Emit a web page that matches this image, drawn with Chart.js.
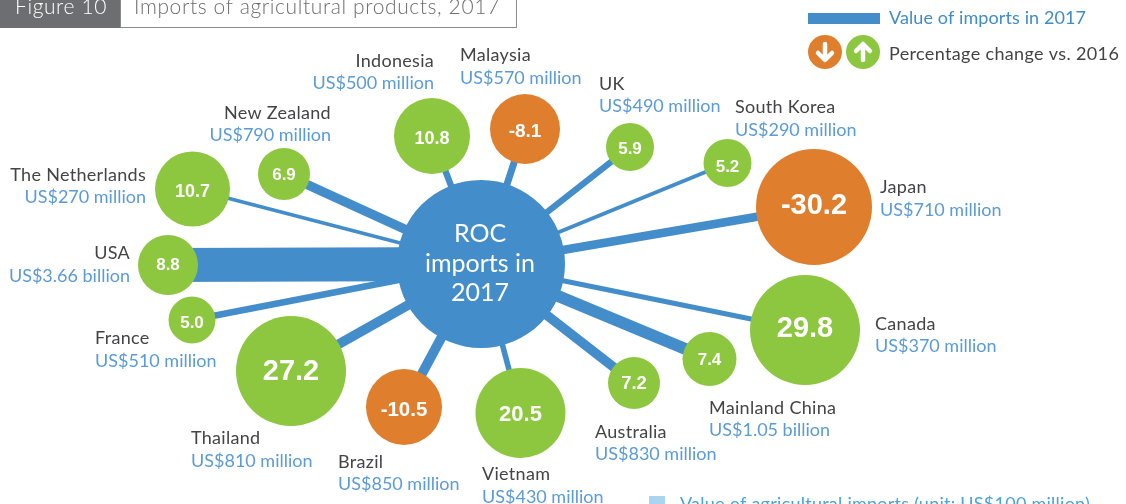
<!DOCTYPE html>
<html><head><meta charset="utf-8">
<style>html,body{margin:0;padding:0;background:#fff;overflow:hidden}canvas{display:block}</style>
<script src="https://cdn.jsdelivr.net/npm/chart.js@4/dist/chart.umd.min.js"></script>
</head><body><canvas id="c" width="1126" height="504"></canvas>
<script>
// --- data ---
const countries = ["The Netherlands","New Zealand","Indonesia","Malaysia","UK","South Korea","Japan","Canada","Mainland China","Australia","Vietnam","Brazil","Thailand","France","USA"];
const importLabels = ["US$270 million","US$790 million","US$500 million","US$570 million","US$490 million","US$290 million","US$710 million","US$370 million","US$1.05 billion","US$830 million","US$430 million","US$850 million","US$810 million","US$510 million","US$3.66 billion"];
const importValues = [270,790,500,570,490,290,710,370,1050,830,430,850,810,510,3660];
const pctChange = [10.7,6.9,10.8,-8.1,5.9,5.2,-30.2,29.8,7.4,7.2,20.5,-10.5,27.2,5.0,8.8];
// --- layout (positions on the hidden 1126x504 scales), kept apart from the data ---
const nodeX = [192.5,284,432,525,630,727.5,814,805,709.5,634,520.5,404,291,192,168];
const nodeY = [189,174,136,129,147,163,207,330,359,383,413,407,371,320,265];
const nodeR = [37.5,26,38,35,24,24,58,55,27,26,45,38,55,23.5,30];
const numY = [192,175,139,132,149,167,206,329,360,384,415,410,372,323,265];
const numSize = [18,17,18,19,17,17,29,29,17,18.5,22,20.5,29,17,17];
const labelX = [146,331,434,460,599,735,880,875,709,595,482,338,191,95,130];
const nameY = [175,113,61,55,84,107,187,324,408,432,474,462,438,338,253];
const valueY = [197,135,83,78,106,130,210,346,430,454,497,484,461,361,276];
const labelAlign = ["right","right","right","left","left","left","left","left","left","left","left","left","left","left","right"];
const hubX = 481, hubY = 264, hubR = 84;
const hubLines = ["ROC","imports in","2017"];

const BLUE="#448dcb", GREEN="#8dc73f", ORANGE="#df7f2d", VALUE_TXT="#5a9bd8", DARK="#444446", GREY="#6d6e71";
const FONT='Lato, "Open Sans", sans-serif', NUM='"Liberation Sans", Arial, sans-serif';
const linkWidth = v => 0.032*Math.pow(v,0.85);

const linkSets = countries.map((n,i)=>({
  type:"line", label:n+" link", order:5,
  data:[{x:hubX,y:hubY},{x:nodeX[i],y:nodeY[i]}],
  borderColor:BLUE, borderWidth:linkWidth(importValues[i]), pointRadius:0, fill:false, tension:0
}));
const hubSet = {type:"bubble",label:"ROC",order:2,data:[{x:hubX,y:hubY,r:hubR}],backgroundColor:BLUE,borderWidth:0};
const nodeSet = {type:"bubble",label:"Change",order:1,
  data:countries.map((n,i)=>({x:nodeX[i],y:nodeY[i],r:nodeR[i]})),
  backgroundColor:pctChange.map(v=>v<0?ORANGE:GREEN),borderWidth:0};

function text(ctx,s,x,y,font,color,align,spacing){
  ctx.font=font;ctx.fillStyle=color;ctx.textAlign=align||"left";ctx.textBaseline="middle";
  ctx.letterSpacing=spacing||"0px";ctx.fillText(s,x,y);ctx.letterSpacing="0px";
}
function arrow(ctx,x,y,dir){
  ctx.strokeStyle="#fff";ctx.lineWidth=4.5;ctx.lineCap="round";ctx.lineJoin="round";
  ctx.beginPath();ctx.moveTo(x,y-8*dir);ctx.lineTo(x,y+7*dir);
  ctx.moveTo(x-7,y+1*dir);ctx.lineTo(x,y+8*dir);ctx.lineTo(x+7,y+1*dir);ctx.stroke();
}
const overlay={id:"overlay",afterDatasetsDraw(chart){
  const ctx=chart.ctx,sx=chart.scales.x,sy=chart.scales.y;
  ctx.save();
  // header
  ctx.fillStyle=GREY;ctx.fillRect(0,0,120,28);
  ctx.strokeStyle="#8a8b8d";ctx.lineWidth=1;ctx.strokeRect(120.5,-2,396,29.5);
  text(ctx,"Figure 10",15,7,'300 21px '+FONT,"#fff","left","0.6px");
  text(ctx,"Imports of agricultural products, 2017",134,7,'300 21px '+FONT,GREY,"left","0.6px");
  // legend
  ctx.fillStyle=BLUE;ctx.fillRect(808,13,72,11);
  text(ctx,"Value of imports in 2017",889,18,'400 18px '+FONT,"#3f8ccb","left","0.1px");
  ctx.fillStyle=ORANGE;ctx.beginPath();ctx.arc(825,52,17,0,7);ctx.fill();
  ctx.fillStyle=GREEN;ctx.beginPath();ctx.arc(863,52,17,0,7);ctx.fill();
  arrow(ctx,825,52,1);arrow(ctx,863,52,-1);
  text(ctx,"Percentage change vs. 2016",889,54,'400 18px '+FONT,DARK,"left","0.35px");
  ctx.fillStyle="#a9d5f1";ctx.fillRect(649,496,16,10);
  text(ctx,"Value of agricultural imports (unit: US$100 million)",680,504,'400 18px '+FONT,"#4aa3dc","left","0.25px");
  // hub
  const hx=sx.getPixelForValue(hubX);
  hubLines.forEach((s,i)=>text(ctx,s,hx-1,sy.getPixelForValue(234+i*29.5),'400 25px '+FONT,"#fff","center"));
  // labels
  countries.forEach((n,i)=>{
    const x=sx.getPixelForValue(labelX[i]);
    text(ctx,n,x,sy.getPixelForValue(nameY[i]),'400 18px '+FONT,DARK,labelAlign[i],"0.3px");
    text(ctx,importLabels[i],x,sy.getPixelForValue(valueY[i]),'400 18px '+FONT,VALUE_TXT,labelAlign[i]);
    text(ctx,pctChange[i].toFixed(1),sx.getPixelForValue(nodeX[i]),sy.getPixelForValue(numY[i]),'bold '+numSize[i]+'px '+NUM,"#fff","center");
  });
  ctx.restore();
}};
new Chart(document.getElementById("c"),{
  data:{datasets:[...linkSets,hubSet,nodeSet]},
  options:{responsive:false,animation:false,clip:false,
    layout:{padding:0,autoPadding:false},
    plugins:{legend:{display:false},tooltip:{enabled:false}},
    events:[],
    scales:{
      x:{type:"linear",min:0,max:1126,display:false},
      y:{type:"linear",min:0,max:504,reverse:true,display:false}
    }},
  plugins:[overlay]
});
</script></body></html>
